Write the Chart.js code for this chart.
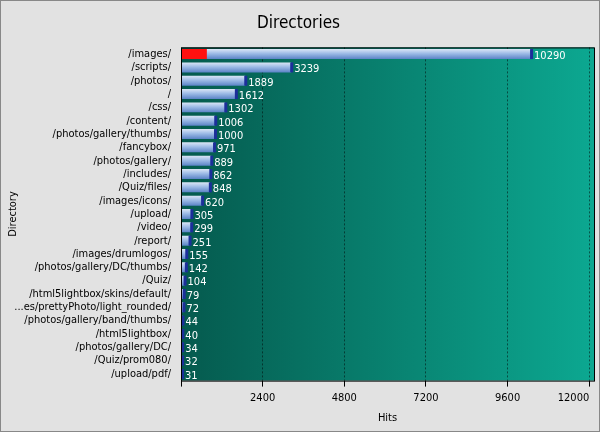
<!DOCTYPE html>
<html><head><meta charset="utf-8">
<script src="https://cdn.jsdelivr.net/npm/chart.js@4"></script>
<style>
html,body{margin:0;padding:0;background:#fff}
#wrap{width:598px;height:430px;border:1px solid #888;background:#e2e2e2}
</style></head><body>
<div id="wrap"><canvas id="c" width="598" height="430"></canvas></div>
<script>
const directories = ["/images/","/scripts/","/photos/","/","/css/","/content/","/photos/gallery/thumbs/","/fancybox/","/photos/gallery/","/includes/","/Quiz/files/","/images/icons/","/upload/","/video/","/report/","/images/drumlogos/","/photos/gallery/DC/thumbs/","/Quiz/","/html5lightbox/skins/default/","...es/prettyPhoto/light_rounded/","/photos/gallery/band/thumbs/","/html5lightbox/","/photos/gallery/DC/","/Quiz/prom080/","/upload/pdf/"];
const hits = [10290,3239,1889,1612,1302,1006,1000,971,889,862,848,620,305,299,251,155,142,104,79,72,44,40,34,32,31];
const highlight = [760,0,0,0,0,0,0,0,0,0,0,0,0,0,0,0,0,0,0,0,0,0,0,0,0];
const tickValues = [2400,4800,7200,9600,12000];

const FONT = "'DejaVu Sans Condensed', 'DejaVu Sans'";

const bgPlugin = {
  id: "bg",
  beforeDraw(chart){
    const {ctx, chartArea:a} = chart;
    const g = ctx.createLinearGradient(a.left,0,a.right,0);
    g.addColorStop(0,"#055a4e"); g.addColorStop(1,"#0ca891");
    ctx.save(); ctx.fillStyle = g; ctx.fillRect(a.left,a.top,a.right-a.left,a.bottom-a.top);
    ctx.restore();
  },
  afterDatasetsDraw(chart){
    const {ctx, chartArea:a} = chart;
    const meta = chart.getDatasetMeta(1);
    ctx.save();
    ctx.font = "11px " + FONT; ctx.textBaseline = "middle";
    meta.data.forEach((el, i) => {
      ctx.fillStyle = "#1c2f9a";
      ctx.fillRect(el.x - 1, el.y - 5, 3, 10);
      ctx.fillStyle = "#fff";
      ctx.fillText(hits[i], el.x + 3, el.y + 2);
    });
    ctx.strokeStyle = "#000"; ctx.lineWidth = 1;
    ctx.strokeRect(a.left+0.5, a.top+0.5, a.right-a.left, a.bottom-a.top);
    ctx.restore();
  }
};

new Chart(document.getElementById("c"), {
  type: "bar",
  data: {
    labels: directories,
    datasets: [
      { data: highlight, backgroundColor: "#ff1010", grouped: false, order: 0, barPercentage: 0.75, categoryPercentage: 1 },
      { data: hits, grouped: false, order: 1, barPercentage: 0.75, categoryPercentage: 1,
        backgroundColor: ctx => {
          const c = ctx.chart; if (!c.chartArea) return "#8fb0e0";
          const y = c.scales.y.getPixelForValue(ctx.dataIndex);
          const g = c.ctx.createLinearGradient(0, y-5, 0, y+5);
          g.addColorStop(0,"#dbe6f6"); g.addColorStop(0.45,"#9dbbe6"); g.addColorStop(1,"#5b83c6");
          return g;
        } }
    ]
  },
  options: {
    indexAxis: "y",
    responsive: false,
    animation: false,
    layout: { padding: { right: 5, left: 2, top: 0, bottom: 0 } },
    plugins: {
      legend: { display: false }, tooltip: { enabled: false },
      title: { display: true, text: "Directories", color: "#000", font: { family: FONT, size: 17, weight: "normal" }, padding: { top: 12, bottom: 14 } }
    },
    scales: {
      x: {
        min: 0, max: 12140,
        afterBuildTicks: s => { s.ticks = [0, ...tickValues].map(v => ({ value: v })); },
        afterFit: s => { s.paddingRight = 0; },
        ticks: { color: "#000", font: { family: FONT, size: 11 }, callback: v => v === 0 ? "" : v, maxRotation: 0, padding: 5, align: "inner" },
        grid: { color: c => c.tick && c.tick.value === 0 ? "rgba(0,0,0,0)" : "rgba(0,0,0,0.5)", tickColor: "#000", tickLength: 6 },
        border: { display: false, dash: [2,2] },
        title: { display: true, text: "Hits", color: "#000", font: { family: FONT, size: 11 }, padding: { top: 2, bottom: 6 } }
      },
      y: {
        afterFit: s => { s.width = 178; },
        ticks: { color: "#000", font: { family: FONT, size: 11 }, padding: 2, autoSkip: false },
        grid: { display: false },
        border: { display: false },
        title: { display: true, text: "Directory", color: "#000", font: { family: FONT, size: 11 }, padding: { top: 4, bottom: 2 } }
      }
    }
  },
  plugins: [bgPlugin]
});
</script>
</body></html>
